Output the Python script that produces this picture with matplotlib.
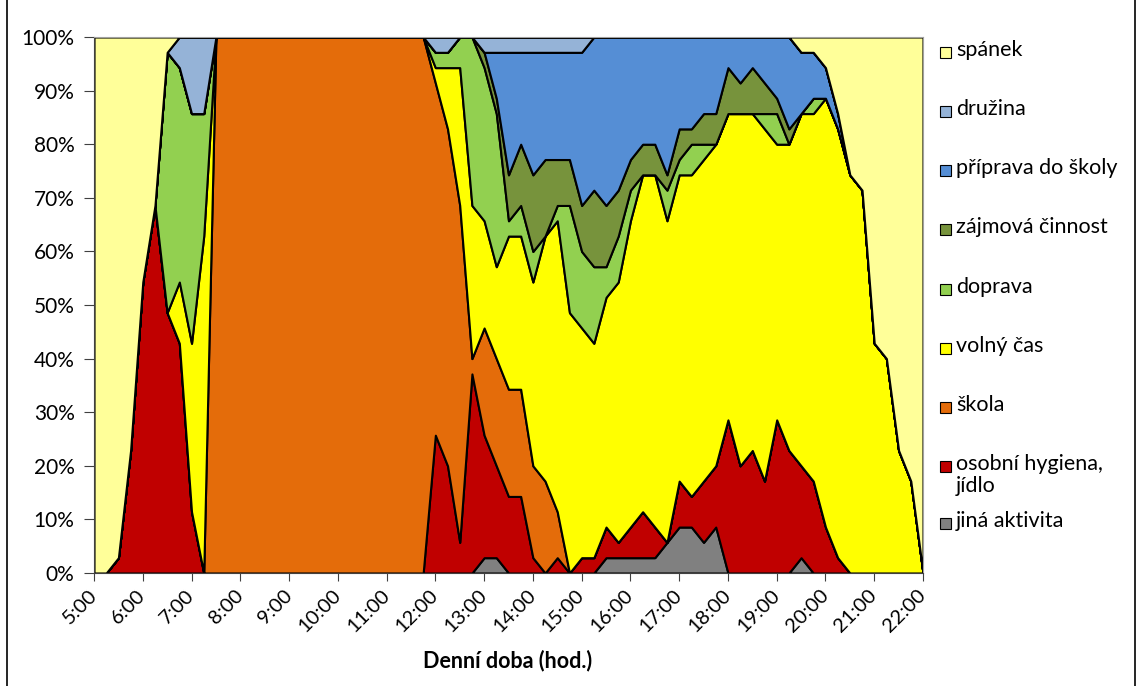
import numpy as np
import matplotlib
matplotlib.use('Agg')
import matplotlib.pyplot as plt
from matplotlib.patches import Rectangle

plt.rcParams['font.family'] = ['Lato', 'DejaVu Sans']

# počet respondentů (děti) - hodnoty jsou počty v každém 15min úseku 5:00-22:00
n_resp = 35

hour_labels = ['5:00', '6:00', '7:00', '8:00', '9:00', '10:00', '11:00', '12:00',
               '13:00', '14:00', '15:00', '16:00', '17:00', '18:00', '19:00',
               '20:00', '21:00', '22:00']

jina = [0] * 32 + [1, 1] + [0] * 8 + [1, 1, 1, 1, 1, 2, 3, 3, 2, 3] + [0] * 6 + [1] + [0] * 10
hygiena = [0, 0, 1, 8, 19, 24, 17, 15, 4, 0] + [0] * 18 + \
          [9, 7, 2, 13, 8, 6, 5, 5, 1, 0, 1, 0, 1, 1, 2, 1, 2, 3, 2, 0, 3, 2, 4, 4,
           10, 7, 8, 6, 10, 8, 6, 6, 3, 1] + [0] * 7
skola = [0] * 10 + [35] * 18 + [23, 22, 22, 1, 7, 7, 7, 7, 6, 6, 3] + [0] * 30
volny = [0, 0, 0, 0, 0, 0, 0, 4, 11, 22] + [0] * 18 + \
        [1, 4, 9, 10, 7, 6, 10, 10, 12, 16, 19, 17, 15, 14, 15, 17, 20, 22, 23, 21,
         20, 21, 21, 21, 20, 23, 22, 23, 18, 20, 23, 24, 28, 28, 26, 25, 15, 14, 8, 6, 0]
doprava = [0, 0, 0, 0, 0, 0, 17, 14, 15, 8] + [0] * 18 + \
          [1, 1, 2, 11, 10, 10, 1, 2, 2, 0, 1, 7, 5, 5, 2, 3, 2, 0, 0, 2, 1, 2, 1, 0,
           0, 0, 0, 1, 2, 0, 0, 1] + [0] * 9
zajmova = [0] * 32 + [1, 1, 3, 4, 5, 5, 3, 3, 3, 5, 4, 3, 2, 2, 2, 1, 2, 1, 2, 2,
                      3, 2, 3, 2, 1, 1] + [0] * 11
priprava = [0] * 33 + [3, 8, 6, 8, 7, 7, 7, 10, 10, 11, 10, 8, 7, 7, 9, 6, 6, 5, 5,
                       2, 3, 2, 3, 4, 6, 4, 3, 2, 1] + [0] * 7
druzina = [0] * 7 + [2, 5, 5] + [0] * 18 + [1, 1, 0, 0] + [1] * 9 + [0] * 28
spanek = [35, 35, 34, 27, 16, 11, 1] + [0] * 51 + [1, 1, 2, 5, 9, 10, 20, 21, 27, 29, 35]

series = [jina, hygiena, skola, volny, doprava, zajmova, priprava, druzina, spanek]
names = ['jiná aktivita', 'osobní hygiena,\njídlo', 'škola', 'volný čas', 'doprava',
         'zájmová činnost', 'příprava do školy', 'družina', 'spánek']
colors = ['#808080', '#C00000', '#E46C0A', '#FFFF00', '#92D050',
          '#77933C', '#558ED5', '#95B3D7', '#FFFF99']

x = np.arange(len(spanek))
pct = [np.array(s) / n_resp * 100 for s in series]

W, H = 1139, 686
fig = plt.figure(figsize=(W / 100, H / 100), dpi=100)
ax = fig.add_axes([94 / W, 1 - 573 / H, (923 - 94) / W, (573 - 37) / H])

ax.stackplot(x, *pct, colors=colors, edgecolor='black', linewidth=1.5)

ax.set_xlim(0, len(x) - 1)
ax.set_ylim(0, 100)
ax.set_xticks(np.arange(0, len(x), 4))
ax.set_xticklabels(hour_labels, rotation=45, ha='right', va='center',
                   rotation_mode='anchor', fontsize=14.5)
ax.set_yticks(np.arange(0, 101, 10))
ax.set_yticklabels(['%d%%' % v for v in range(0, 101, 10)], fontsize=15)
ax.tick_params(axis='x', length=6, pad=8, color='#404040')
ax.tick_params(axis='y', length=7, pad=7, color='#404040')
for side in ['left', 'bottom']:
    ax.spines[side].set_color('#404040')
for side in ['top', 'right']:
    ax.spines[side].set_color('#a0a0a0')

fig.text(508 / W, 1 - 661 / H, 'Denní doba (hod.)', ha='center', va='center',
         fontsize=15.5, fontweight='bold')

# legenda vpravo
leg_y = [523, 466, 407, 348, 289, 229, 170, 111, 52]
for name, col, yy in zip(names, colors, leg_y):
    fig.patches.append(Rectangle((940 / W, 1 - (yy + 6) / H), 11 / W, 11 / H,
                                 transform=fig.transFigure, facecolor=col,
                                 edgecolor='black', linewidth=0.8))
    fig.text(956 / W, 1 - (yy - 12) / H, name, ha='left', va='top', fontsize=15.5,
             linespacing=1.1)

fig.patches.append(Rectangle((7 / W, -0.05), (1135 - 7) / W, 1.2,
                             transform=fig.transFigure, fill=False,
                             edgecolor='black', linewidth=1.2))

fig.savefig('out.png', dpi=100)
